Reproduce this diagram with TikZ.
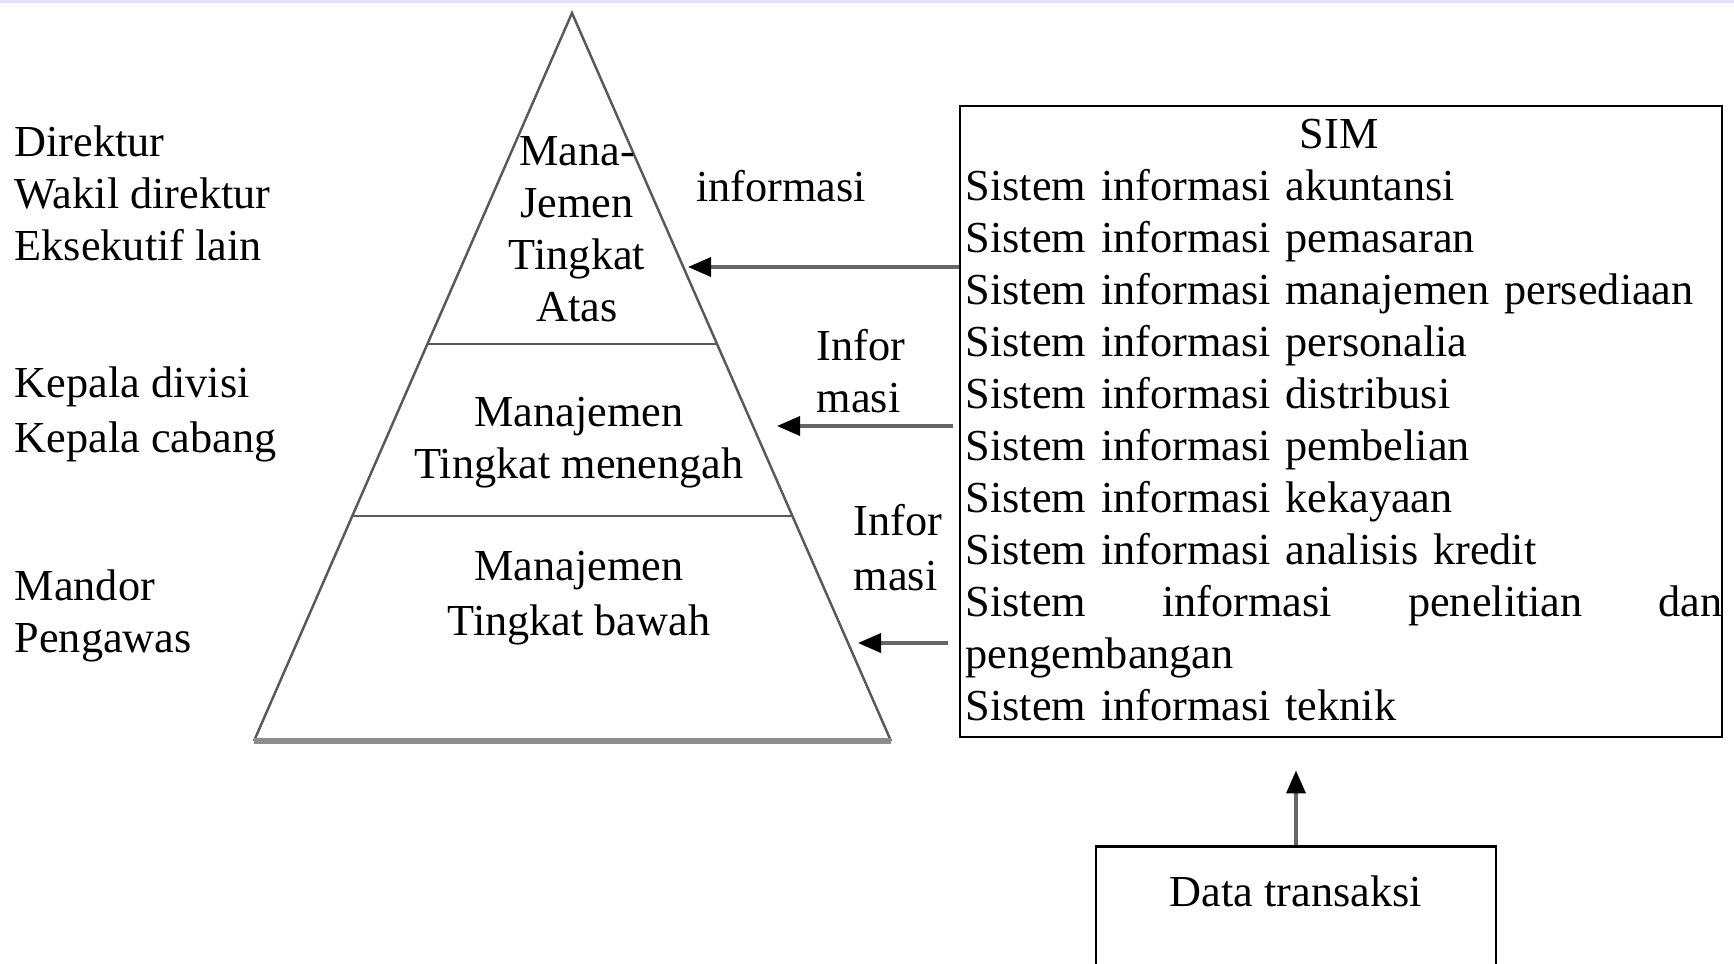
\documentclass[tikz,border=0pt]{standalone}
\usepackage{fontspec}
\setmainfont{Liberation Serif}
\usetikzlibrary{arrows.meta, positioning, calc}

\begin{document}
\begin{tikzpicture}[
    font=\fontsize{12.6}{14.8}\selectfont,
    wide/.style={font=\fontsize{12.6}{15.6}\selectfont},
    lbl/.style={inner sep=0pt, align=left, anchor=west},
    lvl/.style={inner sep=0pt, align=center},
    infoarrow/.style={draw=black!60, line width=1pt, -{Triangle[length=2.3mm, width=1.9mm, color=black]}},
    simbox/.style={draw, line width=0.8pt, minimum width=7.62cm, minimum height=6.31cm, inner sep=0pt},
    databox/.style={draw, line width=0.8pt, minimum width=4cm, inner ysep=2.9mm, text depth=1.6cm, anchor=north}
]
    \clip (0,0) rectangle (17.34,-9.63);
    \fill[blue!12] (0,0) rectangle (17.34,-0.03);

    % Pyramid of management levels
    \coordinate (apex) at (5.72,-0.13);
    \coordinate (bl) at (2.54,-7.41);
    \coordinate (br) at (8.91,-7.41);
    \draw[black!65, line width=0.7pt] (bl) -- (apex) -- (br);
    \draw[black!45, line width=1.6pt] (bl) -- (br);
    \draw[black!65, line width=0.7pt] ($(apex)!0.4547!(bl)$) -- ($(apex)!0.4547!(br)$);
    \draw[black!65, line width=0.7pt] ($(apex)!0.691!(bl)$) -- ($(apex)!0.691!(br)$);

    \node[lvl] (top) at (5.77,-2.29) {Mana-\\Jemen\\Tingkat\\Atas};
    \node[lvl] (middle) at (5.79,-4.43) {Manajemen\\Tingkat menengah};
    \node[lvl, wide] (bottom) at (5.79,-5.98) {Manajemen\\Tingkat bawah};

    % Positions on the left
    \node[lbl] (exec) at (0.14,-1.93) {Direktur\\Wakil direktur\\Eksekutif lain};
    \node[lbl, wide] (heads) at (0.14,-4.14) {Kepala divisi\\Kepala cabang};
    \node[lbl] (foremen) at (0.14,-6.16) {Mandor\\Pengawas};

    % SIM box
    \node[simbox] (sim) at (13.41,-4.215) {};
    \node[inner sep=0pt, anchor=north west, text width=7.57cm, align=left] (simlist)
        at (9.65,-1.18) {%
        \makebox[7.57cm]{\hspace{-0.1cm}SIM}\\
        Sistem informasi akuntansi\\
        Sistem informasi pemasaran\\
        Sistem informasi manajemen persediaan\\
        Sistem informasi personalia\\
        Sistem informasi distribusi\\
        Sistem informasi pembelian\\
        Sistem informasi kekayaan\\
        Sistem informasi analisis kredit\\
        \makebox[7.57cm][s]{Sistem\hfill informasi\hfill penelitian\hfill dan}\\
        pengembangan\\
        Sistem informasi teknik};

    \node[databox] (data) at (12.96,-8.45) {Data transaksi};

    % Information flows
    \coordinate (tip1) at (6.88,-2.67);
    \coordinate (tip2) at (7.77,-4.26);
    \coordinate (tip3) at (8.58,-6.43);
    \draw[infoarrow] (sim.west |- tip1) -- (tip1);
    \draw[infoarrow, shorten <=0.06cm] (sim.west |- tip2) -- (tip2);
    \draw[infoarrow, shorten <=0.11cm] (sim.west |- tip3) -- (tip3);
    \draw[infoarrow] (data.north) -- ([yshift=-0.32cm]data.north |- sim.south);

    \node[lvl] (info1) at (7.81,-1.86) {informasi};
    \node[lbl] (info2) at (8.16,-3.71) {Infor\\masi};
    \node[lbl, wide] (info3) at (8.53,-5.48) {Infor\\masi};
\end{tikzpicture}
\end{document}
